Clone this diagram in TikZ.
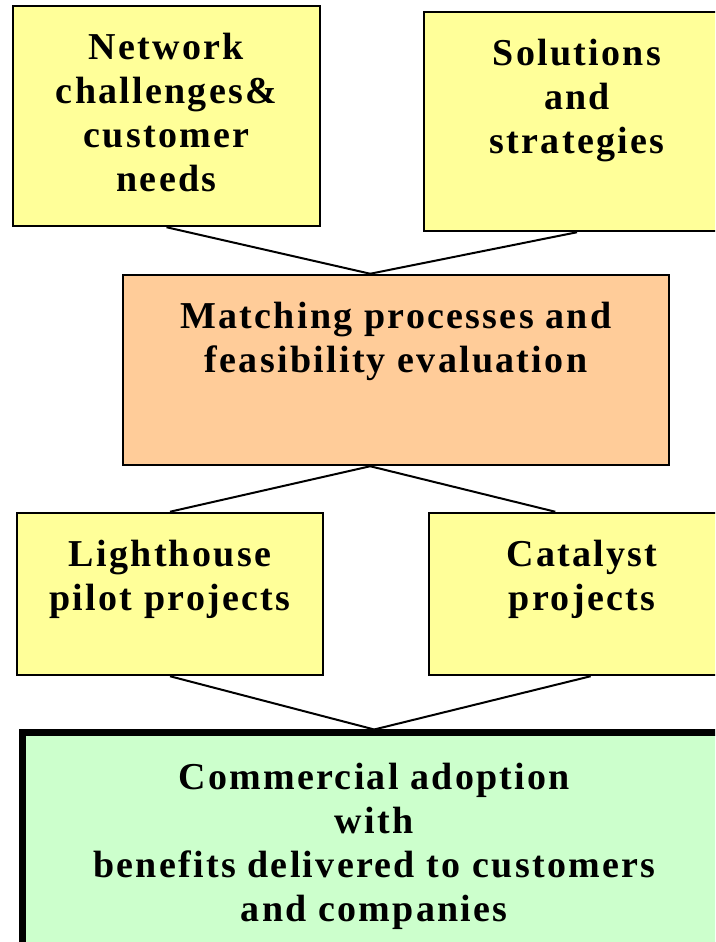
\documentclass[tikz,border=0pt]{standalone}
\usepackage{fontspec}
\setmainfont{Liberation Serif}[LetterSpace=6]
\definecolor{paleyellow}{HTML}{FFFF99}
\definecolor{peach}{HTML}{FFCC99}
\definecolor{mint}{HTML}{CCFFCC}

\tikzset{
  box/.style={draw, line width=2.5pt, inner sep=0pt, fill=#1},
  txt/.style={label={[anchor=north, yshift=-25pt, align=center]north:#1}},
  link/.style={line width=2pt}
}

\begin{document}
\begin{tikzpicture}[x=1pt, y=1pt, font=\fontsize{38}{44}\selectfont\bfseries]
        \useasboundingbox (0,0) rectangle (715,942);
        \clip (0,0) rectangle (715,942);

        % Top row
        \node[box=paleyellow, minimum width=307, minimum height=220,
              txt={Network\\challenges\&\\customer\\needs}] (needs) at (166.5,826) {};
        \node[box=paleyellow, minimum width=306, minimum height=219,
              txt={Solutions\\and\\strategies}] (sol) at (577,820.5) {};

        % Matching box
        \node[box=peach, minimum width=546, minimum height=190,
              txt={Matching processes and\\feasibility evaluation}] (match) at (396,572) {};

        % Project boxes
        \node[box=paleyellow, minimum width=306, minimum height=162,
              txt={Lighthouse\\pilot projects}] (pilot) at (170,348) {};
        \node[box=paleyellow, minimum width=306, minimum height=162,
              txt={Catalyst\\projects}] (cat) at (582,348) {};

        % Result box
        \node[box=mint, line width=7pt, minimum width=703.5, minimum height=260,
              label={[anchor=north, yshift=-30pt, align=center]north:{Commercial adoption\\with\\benefits delivered to customers\\and companies}}] (adopt) at (374.25,79) {};

        % Connectors
        \draw[link] (needs.south) -- (match.105);
        \draw[link] (sol.south) -- (match.105);
        \draw[link] (match.255) -- (pilot.north);
        \draw[link] (match.255) -- (cat.108);
        \draw[link] (pilot.south) -- (adopt.north);
        \draw[link] (cat.-84) -- (adopt.north);
    \end{tikzpicture}
\end{document}
